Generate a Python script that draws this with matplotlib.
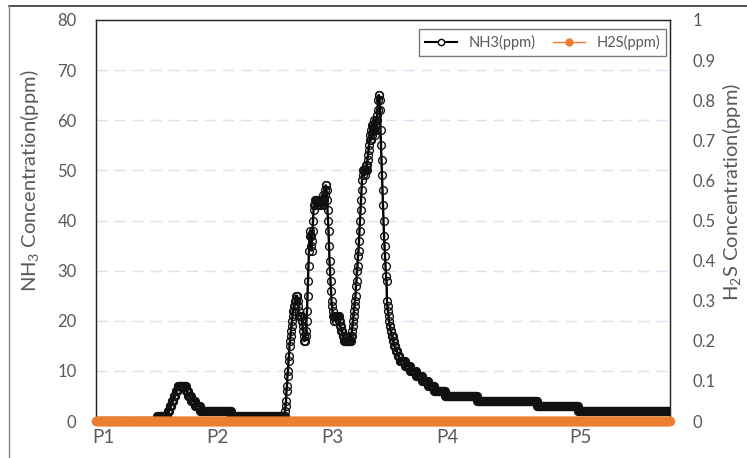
import numpy as np
import matplotlib
matplotlib.use("Agg")
import matplotlib.pyplot as plt
from matplotlib.lines import Line2D

plt.rcParams["font.family"] = ["Lato", "DejaVu Sans"]
plt.rcParams["mathtext.fontset"] = "custom"
plt.rcParams["mathtext.rm"] = "Lato"

# NH3 readings (ppm), one sample per half pixel of the original chart
nh3 = (
    [0] * 122
    + [1] * 18
    + [1, 1, 1, 2, 2, 2, 2, 3, 3, 3, 3, 4, 4, 4, 4, 5, 5, 5, 5, 6, 6, 6, 6, 7, 7, 7, 7, 7]
    + [7] * 12
    + [6, 6, 6, 6, 5, 5, 5, 5, 5, 5, 4, 4, 4, 4, 4, 4, 4, 4,
       3, 3, 3, 3, 3, 3, 3, 3, 3, 3, 2, 2, 2, 2, 2, 2, 2, 2]
    + [2] * 54
    + [1] * 106
    + [1, 1, 2, 3, 4, 6, 7, 9, 10, 12, 13, 15, 16, 17, 18, 19, 20, 21, 22, 22,
       23, 23, 24, 24, 25, 25, 25, 24]
    + [23, 22, 21, 21, 21, 21, 21, 20, 20, 19, 18, 17, 16, 16, 16, 17, 18, 20]
    + [22, 25, 28, 31, 34, 37, 38, 37, 35, 34, 36, 38, 40, 42, 43, 44, 43, 44, 44, 43, 44, 43]
    + [43, 44, 44, 43, 44, 44, 43, 44, 44, 45, 44, 43, 44, 45, 46, 47, 47, 46, 44, 42]
    + [40, 38, 35, 32, 30, 28, 26, 24, 23, 22]
    + [21, 21, 20, 21, 21, 21, 20, 21, 21, 21, 21, 20, 21, 20, 19, 19, 18, 18,
       18, 17, 17, 17, 16, 16, 16, 16, 16, 16, 16, 16, 16, 16, 17, 16, 16, 16, 17, 17, 18, 19]
    + [20, 21, 22, 23, 24, 25, 27, 28, 30, 31, 33, 34, 36, 38, 40, 42, 44, 46, 48, 49, 50, 50]
    + [50, 49, 50, 50, 51, 50, 51, 52, 53, 54, 55, 56, 57, 56, 58, 59, 57, 58, 59, 60,
       58, 57, 59, 60, 58, 60, 61, 62, 64, 65]
    + [65, 64, 62, 58, 55, 52, 49, 46, 43, 40, 37, 35, 33, 31, 29, 28]
    + [24, 23, 22, 21, 20, 19, 19, 18, 18, 17, 17, 17, 16, 16, 15, 15, 15, 14, 14, 14,
       14, 13, 13, 13, 13, 12]
    + [12] * 10 + [11] * 10 + [10] * 12 + [9] * 12 + [8] * 12 + [7] * 12 + [6] * 22
    + [5] * 64 + [4] * 120 + [3] * 82 + [2] * 184
)
# H2S stayed at zero the whole run
h2s = [0.0] * len(nh3)

tick_pos = [14, 242, 472, 702, 968]
tick_labels = ["P1", "P2", "P3", "P4", "P5"]

x = np.arange(len(nh3))
grey = "#595959"
orange = "#ED7D31"

fig = plt.figure(figsize=(7.47, 4.58), dpi=100)
ax = fig.add_axes([96 / 747, 1 - 421 / 458, 574 / 747, 401 / 458])
ax2 = ax.twinx()

ax.plot(x, nh3, color="black", lw=1.7, marker="o", ms=5.6, mfc="none",
        mec="#111111", mew=1.0, zorder=3)
ax2.plot(x, h2s, color=orange, lw=4.5, marker="o", ms=5.8, mfc=orange, mec=orange,
         solid_capstyle="round", clip_on=False, zorder=4)

ax.set_xlim(0, len(nh3))
ax.set_ylim(0, 80)
ax.set_yticks(range(0, 81, 10))
ax2.set_ylim(0, 1)
ax2.set_yticks(np.arange(0, 1.01, 0.1))
ax2.set_yticklabels(["0"] + [f"{v:.1f}" for v in np.arange(0.1, 0.95, 0.1)] + ["1"])

ax.set_xticks(tick_pos)
ax.set_xticklabels(tick_labels)

for gy in range(10, 80, 10):
    ax.axhline(gy, color="#D6E2F2", lw=1, ls=(0, (8, 5)), zorder=1)

for a in (ax, ax2):
    a.tick_params(length=0, colors=grey, labelsize=12)
    for s in a.spines.values():
        s.set_color("#262626")
        s.set_linewidth(0.9)
ax.tick_params(axis="x", labelsize=13.5, pad=6)
ax.tick_params(axis="y", pad=14)
ax2.tick_params(axis="y", pad=16)

ax.set_ylabel("NH$_3$ Concentration(ppm)", color=grey, fontsize=14.5)
ax.yaxis.set_label_coords(-0.094, 0.60)
ax2.set_ylabel("H$_2$S Concentration(ppm)", color=grey, fontsize=14.5, rotation=90)
ax2.yaxis.set_label_coords(1.088, 0.57)

handles = [
    Line2D([], [], color="black", lw=1.5, marker="o", ms=4.5, mfc="white", mec="black"),
    Line2D([], [], color=orange, lw=1, marker="o", ms=5, mfc=orange, mec=orange),
]
leg = ax2.legend(handles, ["NH3(ppm)", "H2S(ppm)"], ncol=2, loc="upper right",
                 bbox_to_anchor=(0.993, 0.978), borderaxespad=0, fontsize=10.5,
                 frameon=True, fancybox=False, handlelength=2.2, columnspacing=1.2,
                 labelcolor=grey)
leg.get_frame().set_edgecolor(grey)
leg.get_frame().set_linewidth(1)

# outer chart frame
fig.add_artist(Line2D([9 / 747, 1], [1 - 6 / 458, 1 - 6 / 458], color="#333333", lw=1.2))
fig.add_artist(Line2D([9 / 747, 9 / 747], [0, 1 - 6 / 458], color="#888888", lw=1))

fig.savefig("out.png", dpi=100)
